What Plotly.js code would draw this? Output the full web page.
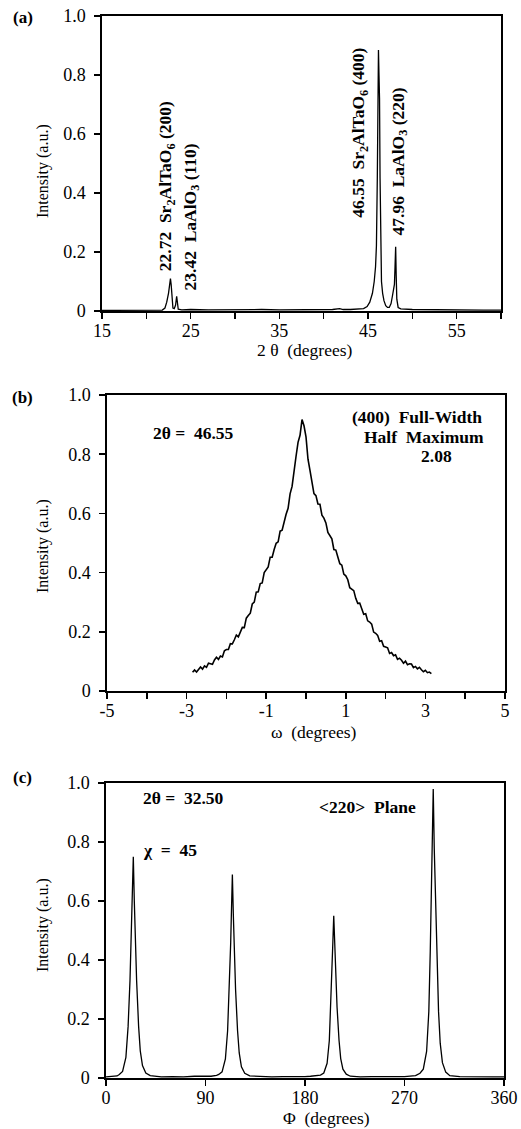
<!DOCTYPE html>
<html>
<head>
<meta charset="utf-8">
<script src="https://cdn.plot.ly/plotly-3.0.1.min.js"></script>
<style>html,body{margin:0;padding:0;background:#fff;}#chart{width:521px;height:1129px;}</style>
</head>
<body>
<div id="chart"></div>
<script>
// ---------- DATA ----------
// (a) 2-theta scan
const a_two_theta = [15, 17, 19, 21, 21.8, 22.1, 22.3, 22.5, 22.65, 22.72, 22.8, 22.9, 23.0, 23.15, 23.3, 23.42, 23.5, 23.6, 24, 25, 27, 29, 31, 33, 35, 37, 39, 41, 41.8, 42.2, 43, 44, 44.5, 44.9, 45.2, 45.5, 45.7, 45.85, 45.95, 46.05, 46.12, 46.18, 46.24, 46.3, 46.36, 46.42, 46.52, 46.65, 46.8, 47.0, 47.2, 47.4, 47.6, 47.75, 47.9, 47.98, 48.05, 48.12, 48.18, 48.25, 48.4, 48.7, 50, 52, 54, 56, 58, 60];
const a_intensity = [0.002, 0.002, 0.002, 0.003, 0.003, 0.01, 0.03, 0.06, 0.09, 0.11, 0.09, 0.04, 0.01, 0.008, 0.02, 0.05, 0.02, 0.006, 0.004, 0.005, 0.004, 0.005, 0.004, 0.005, 0.004, 0.005, 0.004, 0.005, 0.008, 0.005, 0.005, 0.007, 0.008, 0.015, 0.03, 0.06, 0.1, 0.15, 0.22, 0.45, 0.72, 0.885, 0.80, 0.72, 0.45, 0.2, 0.1, 0.06, 0.035, 0.018, 0.012, 0.012, 0.025, 0.05, 0.085, 0.09, 0.15, 0.218, 0.12, 0.04, 0.012, 0.007, 0.005, 0.004, 0.004, 0.004, 0.003, 0.003];
const a_tick_values = [15, 20, 25, 30, 35, 40, 45, 50, 55, 60];
const a_tick_labels = ['15', '', '25', '', '35', '', '45', '', '55', ''];

// (b) omega rocking curve of (400)
const b_omega = [-2.85, -2.80, -2.75, -2.70, -2.65, -2.60, -2.55, -2.50, -2.45, -2.40, -2.35, -2.30, -2.25, -2.20, -2.15, -2.10, -2.05, -2.00, -1.95, -1.90, -1.85, -1.80, -1.75, -1.70, -1.65, -1.60, -1.55, -1.50, -1.45, -1.40, -1.35, -1.30, -1.25, -1.20, -1.15, -1.10, -1.05, -1.00, -0.95, -0.90, -0.85, -0.80, -0.75, -0.70, -0.65, -0.60, -0.55, -0.50, -0.45, -0.40, -0.35, -0.30, -0.25, -0.20, -0.15, -0.10, -0.05, 0.00, 0.05, 0.10, 0.15, 0.20, 0.25, 0.30, 0.35, 0.40, 0.45, 0.50, 0.55, 0.60, 0.65, 0.70, 0.75, 0.80, 0.85, 0.90, 0.95, 1.00, 1.05, 1.10, 1.15, 1.20, 1.25, 1.30, 1.35, 1.40, 1.45, 1.50, 1.55, 1.60, 1.65, 1.70, 1.75, 1.80, 1.85, 1.90, 1.95, 2.00, 2.05, 2.10, 2.15, 2.20, 2.25, 2.30, 2.35, 2.40, 2.45, 2.50, 2.55, 2.60, 2.65, 2.70, 2.75, 2.80, 2.85, 2.90, 2.95, 3.00, 3.05, 3.10, 3.15];
const b_intensity = [0.063, 0.071, 0.064, 0.074, 0.081, 0.074, 0.085, 0.080, 0.094, 0.092, 0.090, 0.105, 0.114, 0.107, 0.118, 0.115, 0.136, 0.140, 0.140, 0.160, 0.159, 0.173, 0.189, 0.183, 0.199, 0.215, 0.214, 0.246, 0.255, 0.263, 0.294, 0.300, 0.334, 0.335, 0.363, 0.365, 0.400, 0.410, 0.419, 0.452, 0.452, 0.478, 0.499, 0.504, 0.540, 0.543, 0.575, 0.597, 0.617, 0.666, 0.691, 0.751, 0.793, 0.840, 0.864, 0.917, 0.896, 0.859, 0.783, 0.745, 0.712, 0.667, 0.660, 0.632, 0.631, 0.594, 0.584, 0.568, 0.536, 0.527, 0.514, 0.478, 0.476, 0.453, 0.430, 0.425, 0.395, 0.389, 0.376, 0.349, 0.345, 0.339, 0.313, 0.296, 0.297, 0.278, 0.259, 0.261, 0.237, 0.233, 0.226, 0.199, 0.195, 0.188, 0.168, 0.170, 0.151, 0.149, 0.146, 0.127, 0.130, 0.119, 0.122, 0.107, 0.111, 0.104, 0.094, 0.101, 0.089, 0.092, 0.091, 0.079, 0.083, 0.075, 0.080, 0.072, 0.065, 0.070, 0.062, 0.064, 0.059];
const b_tick_values = [-5, -4, -3, -2, -1, 0, 1, 2, 3, 4, 5];
const b_tick_labels = ['-5', '', '-3', '', '-1', '', '1', '', '3', '', '5'];

// (c) phi scan of <220>
const c_phi = [0, 5, 10, 12, 15, 18, 20, 21.7, 23, 23.8, 24.7, 25.6, 26.5, 27.7, 29.5, 31, 33, 36, 40, 50, 60, 70, 80, 90, 95, 100, 102, 105, 108, 110, 111.5, 112.8, 113.5, 114.3, 115.2, 116, 117.2, 119, 120.5, 122.5, 125.5, 130, 140, 150, 160, 170, 180, 185, 190, 194, 197, 200, 202, 203.3, 204.5, 205.2, 206, 206.9, 207.8, 209, 210.8, 212.3, 214.3, 217.3, 221, 230, 240, 250, 260, 270, 275, 280, 284, 287, 290, 292, 293.3, 294.5, 295.2, 296, 296.9, 297.8, 299, 300.8, 302.3, 304.3, 307.3, 311, 320, 330, 340, 350, 360];
const c_intensity = [0.004, 0.005, 0.007, 0.012, 0.022, 0.07, 0.175, 0.33, 0.50, 0.62, 0.75, 0.60, 0.48, 0.33, 0.175, 0.092, 0.042, 0.017, 0.008, 0.004, 0.005, 0.004, 0.006, 0.005, 0.006, 0.009, 0.012, 0.021, 0.065, 0.16, 0.30, 0.46, 0.57, 0.69, 0.55, 0.44, 0.30, 0.16, 0.085, 0.038, 0.016, 0.007, 0.005, 0.004, 0.005, 0.004, 0.005, 0.006, 0.008, 0.01, 0.017, 0.05, 0.127, 0.24, 0.37, 0.46, 0.55, 0.44, 0.35, 0.24, 0.127, 0.066, 0.03, 0.013, 0.006, 0.004, 0.005, 0.004, 0.005, 0.005, 0.006, 0.008, 0.016, 0.03, 0.09, 0.225, 0.43, 0.65, 0.81, 0.98, 0.78, 0.63, 0.43, 0.225, 0.118, 0.052, 0.02, 0.008, 0.005, 0.004, 0.005, 0.004, 0.004];
const c_tick_values = [0, 90, 180, 270, 360];
const c_tick_labels = ['0', '90', '180', '270', '360'];

const y_tick_values = [0, 0.2, 0.4, 0.6, 0.8, 1.0];
const y_tick_labels = ['0', '0.2', '0.4', '0.6', '0.8', '1.0'];

// ---------- LAYOUT HELPERS ----------
const W = 521, H = 1129;
const px = v => v / W;
const py = v => 1 - v / H;
const SERIF = 'Liberation Serif, Times New Roman, serif';

function xAxis(l, r, range, tv, tt) {
  return {
    domain: [px(l), px(r)], range: range, tickmode: 'array', tickvals: tv, ticktext: tt,
    ticks: 'outside', ticklen: 6, tickwidth: 1.5, tickcolor: '#000',
    showline: true, linecolor: '#000', linewidth: 1.6, mirror: true,
    showgrid: false, zeroline: false, fixedrange: true,
    tickfont: {family: SERIF, size: 18, color: '#000'}, ticklabelstandoff: -3
  };
}
function yAxis(top, bottom) {
  return {
    domain: [py(bottom), py(top)], range: [0, 1], tickmode: 'array',
    tickvals: y_tick_values, ticktext: y_tick_labels,
    ticks: 'outside', ticklen: 6, tickwidth: 1.5, tickcolor: '#000',
    showline: true, linecolor: '#000', linewidth: 1.6, mirror: true,
    showgrid: false, zeroline: false, fixedrange: true,
    tickfont: {family: SERIF, size: 18, color: '#000'}, ticklabelstandoff: 5
  };
}

const lineStyle = {color: '#000', width: 1.3};
const traces = [
  {x: a_two_theta, y: a_intensity, xaxis: 'x', yaxis: 'y', type: 'scatter', mode: 'lines', line: lineStyle, hoverinfo: 'skip'},
  {x: b_omega, y: b_intensity, xaxis: 'x2', yaxis: 'y2', type: 'scatter', mode: 'lines', line: {color: '#000', width: 1.6}, hoverinfo: 'skip'},
  {x: c_phi, y: c_intensity, xaxis: 'x3', yaxis: 'y3', type: 'scatter', mode: 'lines', line: lineStyle, hoverinfo: 'skip'}
];

function paperText(text, x, y, size, opts) {
  return Object.assign({
    text: text, xref: 'paper', yref: 'paper', x: px(x), y: py(y),
    xanchor: 'center', yanchor: 'middle', showarrow: false,
    font: {family: SERIF, size: size, color: '#000'}
  }, opts || {});
}
function dataText(text, xr, yr, x, y, size) {
  return {
    text: text, xref: xr, yref: yr, x: x, y: y, textangle: -90,
    xanchor: 'center', yanchor: 'middle', showarrow: false,
    font: {family: SERIF, size: size, color: '#000'}
  };
}
const NB = '\u00a0';
const annotations = [
  // panel letters
  paperText('<b>(a)</b>', 23, 17, 17),
  paperText('<b>(b)</b>', 22, 398, 17),
  paperText('<b>(c)</b>', 22, 777, 17),
  // y titles
  paperText('Intensity (a.u.)', 43, 171, 16, {textangle: -90}),
  paperText('Intensity (a.u.)', 43, 546, 16, {textangle: -90}),
  paperText('Intensity (a.u.)', 43, 925, 16, {textangle: -90}),
  // x titles
  paperText('2 θ' + NB + NB + '(degrees)', 305, 350, 17.5),
  paperText('ω' + NB + NB + '(degrees)', 314, 732, 17.5),
  paperText('Φ' + NB + NB + '(degrees)', 326, 1118, 17.5),
  // panel (a) peak labels
  dataText('<b>22.72' + NB + NB + 'Sr<sub>2</sub>AlTaO<sub>6</sub>' + NB + '(200)</b>', 'x', 'y', 22.3, 0.422, 17.5),
  dataText('<b>23.42' + NB + NB + 'LaAlO<sub>3</sub>' + NB + '(110)</b>', 'x', 'y', 25.1, 0.319, 17.5),
  dataText('<b>46.55' + NB + NB + 'Sr<sub>2</sub>AlTaO<sub>6</sub>' + NB + '(400)</b>', 'x', 'y', 44.05, 0.603, 17.5),
  dataText('<b>47.96' + NB + NB + 'LaAlO<sub>3</sub>' + NB + '(220)</b>', 'x', 'y', 48.5, 0.507, 17.5),
  // panel (b) texts
  paperText('<b>2θ =' + NB + NB + '46.55</b>', 193, 433, 17.5),
  paperText('<b>(400)' + NB + NB + 'Full-Width</b>', 484, 417, 17.5, {xanchor: 'right'}),
  paperText('<b>Half' + NB + ' Maximum</b>', 486, 437, 17.5, {xanchor: 'right'}),
  paperText('<b>2.08</b>', 436, 456, 17.5),
  // panel (c) texts
  paperText('<b>2θ =' + NB + NB + '32.50</b>', 183, 798, 17.5),
  paperText('<b>&lt;220&gt;' + NB + NB + 'Plane</b>', 367, 807, 17.5),
  paperText('<b>χ' + NB + NB + '=' + NB + NB + '45</b>', 170, 850, 17.5)
];

const layout = {
  width: W, height: H, margin: {l: 0, r: 0, t: 0, b: 0},
  paper_bgcolor: '#fff', plot_bgcolor: '#fff', showlegend: false,
  xaxis: xAxis(102, 501, [15, 60], a_tick_values, a_tick_labels),
  yaxis: yAxis(16, 311),
  xaxis2: Object.assign(xAxis(107, 505, [-5, 5], b_tick_values, b_tick_labels), {anchor: 'y2'}),
  yaxis2: Object.assign(yAxis(395, 691), {anchor: 'x2'}),
  xaxis3: Object.assign(xAxis(106, 504, [0, 360], c_tick_values, c_tick_labels), {anchor: 'y3'}),
  yaxis3: Object.assign(yAxis(783, 1078), {anchor: 'x3'}),
  annotations: annotations
};

Plotly.newPlot('chart', traces, layout, {staticPlot: true, displayModeBar: false});
</script>
</body>
</html>
